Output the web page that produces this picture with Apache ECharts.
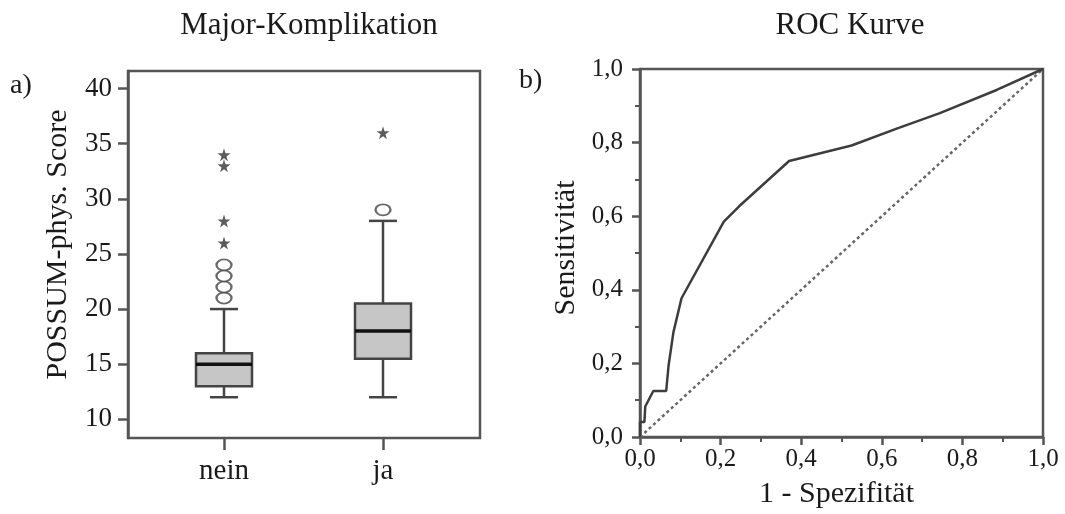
<!DOCTYPE html>
<html>
<head>
<meta charset="utf-8">
<script src="https://cdn.jsdelivr.net/npm/echarts@6/dist/echarts.min.js"></script>
<style>
html,body{margin:0;padding:0;background:#fff;}
#chart{width:1065px;height:514px;}
</style>
</head>
<body>
<div id="chart"></div>
<script>
// ---- data ----
const categories = ['nein', 'ja'];
const boxMin = [12, 12];
const boxQ1 = [13, 15.5];
const boxMedian = [15, 18];
const boxQ3 = [16, 20.5];
const boxMax = [20, 28];
const outlierCircles = [['nein', 21], ['nein', 22], ['nein', 23], ['nein', 24], ['ja', 29]];
const outlierStars = [['nein', 26], ['nein', 28], ['nein', 33], ['nein', 34], ['ja', 36]];
const scoreTicks = [10, 15, 20, 25, 30, 35, 40];

const rocFpr = [0, 0, 0.011, 0.013, 0.033, 0.065, 0.071, 0.083, 0.103, 0.208, 0.246, 0.370, 0.525, 0.637, 0.744, 0.885, 1];
const rocTpr = [0, 0.041, 0.041, 0.083, 0.125, 0.125, 0.195, 0.285, 0.377, 0.585, 0.627, 0.750, 0.792, 0.838, 0.880, 0.943, 1];
const refLine = [[0, 0], [1, 1]];

// ---- chart ----
const FONT = '"Liberation Serif", "Times New Roman", serif';
const AX = '#555';
const TXT = '#1a1a1a';
const chart = echarts.init(document.getElementById('chart'));

const boxData = categories.map((c, i) => [i, boxMin[i], boxQ1[i], boxMedian[i], boxQ3[i], boxMax[i]]);
const rocData = rocFpr.map((x, i) => [x, rocTpr[i]]);
const comma = v => v.toFixed(1).replace('.', ',');

function renderBox(params, api) {
  const idx = api.value(0);
  const pMin = api.coord([idx, api.value(1)]);
  const pQ1 = api.coord([idx, api.value(2)]);
  const pMed = api.coord([idx, api.value(3)]);
  const pQ3 = api.coord([idx, api.value(4)]);
  const pMax = api.coord([idx, api.value(5)]);
  const x = pMed[0];
  const hw = 28, cw = 14;
  const lineStyle = {stroke: '#444', lineWidth: 2.5, fill: null};
  return {
    type: 'group',
    children: [
      {type: 'line', shape: {x1: x, y1: pMax[1], x2: x, y2: pQ3[1]}, style: lineStyle},
      {type: 'line', shape: {x1: x, y1: pQ1[1], x2: x, y2: pMin[1]}, style: lineStyle},
      {type: 'line', shape: {x1: x - cw, y1: pMax[1], x2: x + cw, y2: pMax[1]}, style: lineStyle},
      {type: 'line', shape: {x1: x - cw, y1: pMin[1], x2: x + cw, y2: pMin[1]}, style: lineStyle},
      {type: 'rect', shape: {x: x - hw, y: pQ3[1], width: 2 * hw, height: pQ1[1] - pQ3[1]},
        style: {fill: '#c6c6c6', stroke: '#444', lineWidth: 2.5}},
      {type: 'line', shape: {x1: x - hw, y1: pMed[1], x2: x + hw, y2: pMed[1]},
        style: {stroke: '#111', lineWidth: 3.5}}
    ]
  };
}

const option = {
  backgroundColor: '#fff',
  animation: false,
  title: [
    {text: 'Major-Komplikation', left: 309, top: 10, textAlign: 'center', padding: 0,
      textStyle: {fontFamily: FONT, fontSize: 31, fontWeight: 'normal', color: TXT}},
    {text: 'ROC Kurve', left: 850, top: 10, textAlign: 'center', padding: 0,
      textStyle: {fontFamily: FONT, fontSize: 31, fontWeight: 'normal', color: TXT}},
    {text: 'a)', left: 10, top: 72, padding: 0,
      textStyle: {fontFamily: FONT, fontSize: 28, fontWeight: 'normal', color: TXT}},
    {text: 'b)', left: 519, top: 67, padding: 0,
      textStyle: {fontFamily: FONT, fontSize: 28, fontWeight: 'normal', color: TXT}}
  ],
  grid: [
    {left: 128, right: 585, top: 71, bottom: 76, show: true, borderColor: AX, borderWidth: 2.5, backgroundColor: 'transparent'},
    {left: 144.5, right: 602.5, top: 71, bottom: 76},
    {left: 640, right: 22, top: 69, bottom: 77, show: true, borderColor: AX, borderWidth: 2.5, backgroundColor: 'transparent'}
  ],
  xAxis: [
    {gridIndex: 0, type: 'value', min: 0, max: 1, show: false},
    {gridIndex: 1, type: 'category', data: categories, boundaryGap: true,
      axisLine: {show: false},
      axisTick: {show: true, alignWithLabel: true, length: 12, lineStyle: {color: AX, width: 2.5}},
      axisLabel: {margin: 19, fontFamily: FONT, fontSize: 29, color: TXT},
      splitLine: {show: false}},
    {gridIndex: 2, type: 'value', min: 0, max: 1, interval: 0.2,
      name: '1 - Spezifität', nameLocation: 'middle', nameGap: 42,
      nameTextStyle: {fontFamily: FONT, fontSize: 30, color: TXT, padding: [0, 10, 0, 0]},
      axisLine: {show: true, lineStyle: {color: AX, width: 2.5}},
      axisTick: {show: true, length: 8, lineStyle: {color: AX, width: 2.5}},
      minorTick: {show: true, splitNumber: 2, length: 5, lineStyle: {color: AX, width: 2}},
      axisLabel: {margin: 10, fontFamily: FONT, fontSize: 25, color: TXT, formatter: comma},
      splitLine: {show: false}, minorSplitLine: {show: false}}
  ],
  yAxis: [
    {gridIndex: 0, type: 'value', min: 8.3, max: 41.6,
      name: 'POSSUM-phys. Score', nameLocation: 'middle', nameGap: 55,
      nameTextStyle: {fontFamily: FONT, fontSize: 30, color: TXT, padding: [0, 0, 0, 20]},
      axisLine: {show: true, lineStyle: {color: AX, width: 2.5}},
      axisTick: {show: true, length: 10, customValues: scoreTicks, lineStyle: {color: AX, width: 2.5}},
      axisLabel: {margin: 16, customValues: scoreTicks, fontFamily: FONT, fontSize: 27, color: TXT},
      splitLine: {show: false}},
    {gridIndex: 1, type: 'value', min: 8.3, max: 41.6, show: false, splitLine: {show: false}},
    {gridIndex: 2, type: 'value', min: 0, max: 1, interval: 0.2,
      name: 'Sensitivität', nameLocation: 'middle', nameGap: 59,
      nameTextStyle: {fontFamily: FONT, fontSize: 30, color: TXT, padding: [0, 0, 0, 10]},
      axisLine: {show: true, lineStyle: {color: AX, width: 2.5}},
      axisTick: {show: true, length: 8, lineStyle: {color: AX, width: 2.5}},
      minorTick: {show: true, splitNumber: 2, length: 5, lineStyle: {color: AX, width: 2}},
      axisLabel: {margin: 17, fontFamily: FONT, fontSize: 25, color: TXT, formatter: comma},
      splitLine: {show: false}, minorSplitLine: {show: false}}
  ],
  series: [
    {type: 'custom', name: 'Box', xAxisIndex: 1, yAxisIndex: 1, renderItem: renderBox,
      encode: {x: 0, y: [1, 2, 3, 4, 5]}, data: boxData, z: 3},
    {type: 'scatter', name: 'Ausreißer', xAxisIndex: 1, yAxisIndex: 1, data: outlierCircles,
      symbol: 'emptyCircle', symbolSize: [15, 11],
      itemStyle: {color: '#444', borderColor: '#444', borderWidth: 2.8}, z: 4},
    {type: 'scatter', name: 'Extremwerte', xAxisIndex: 1, yAxisIndex: 1, data: outlierStars,
      symbol: 'path://M50,0 L61,35 L98,35 L68,57 L79,91 L50,70 L21,91 L32,57 L2,35 L39,35 Z',
      symbolSize: 13, itemStyle: {color: '#333'}, z: 4},
    {type: 'line', name: 'Referenz', xAxisIndex: 2, yAxisIndex: 2, data: refLine,
      showSymbol: false, symbol: 'none', lineStyle: {color: '#666', width: 2.5, type: [3, 3]}, z: 2},
    {type: 'line', name: 'ROC', xAxisIndex: 2, yAxisIndex: 2, data: rocData,
      showSymbol: false, symbol: 'none', lineStyle: {color: '#3d3d3d', width: 2.5}, z: 3}
  ]
};
chart.setOption(option);
</script>
</body>
</html>
